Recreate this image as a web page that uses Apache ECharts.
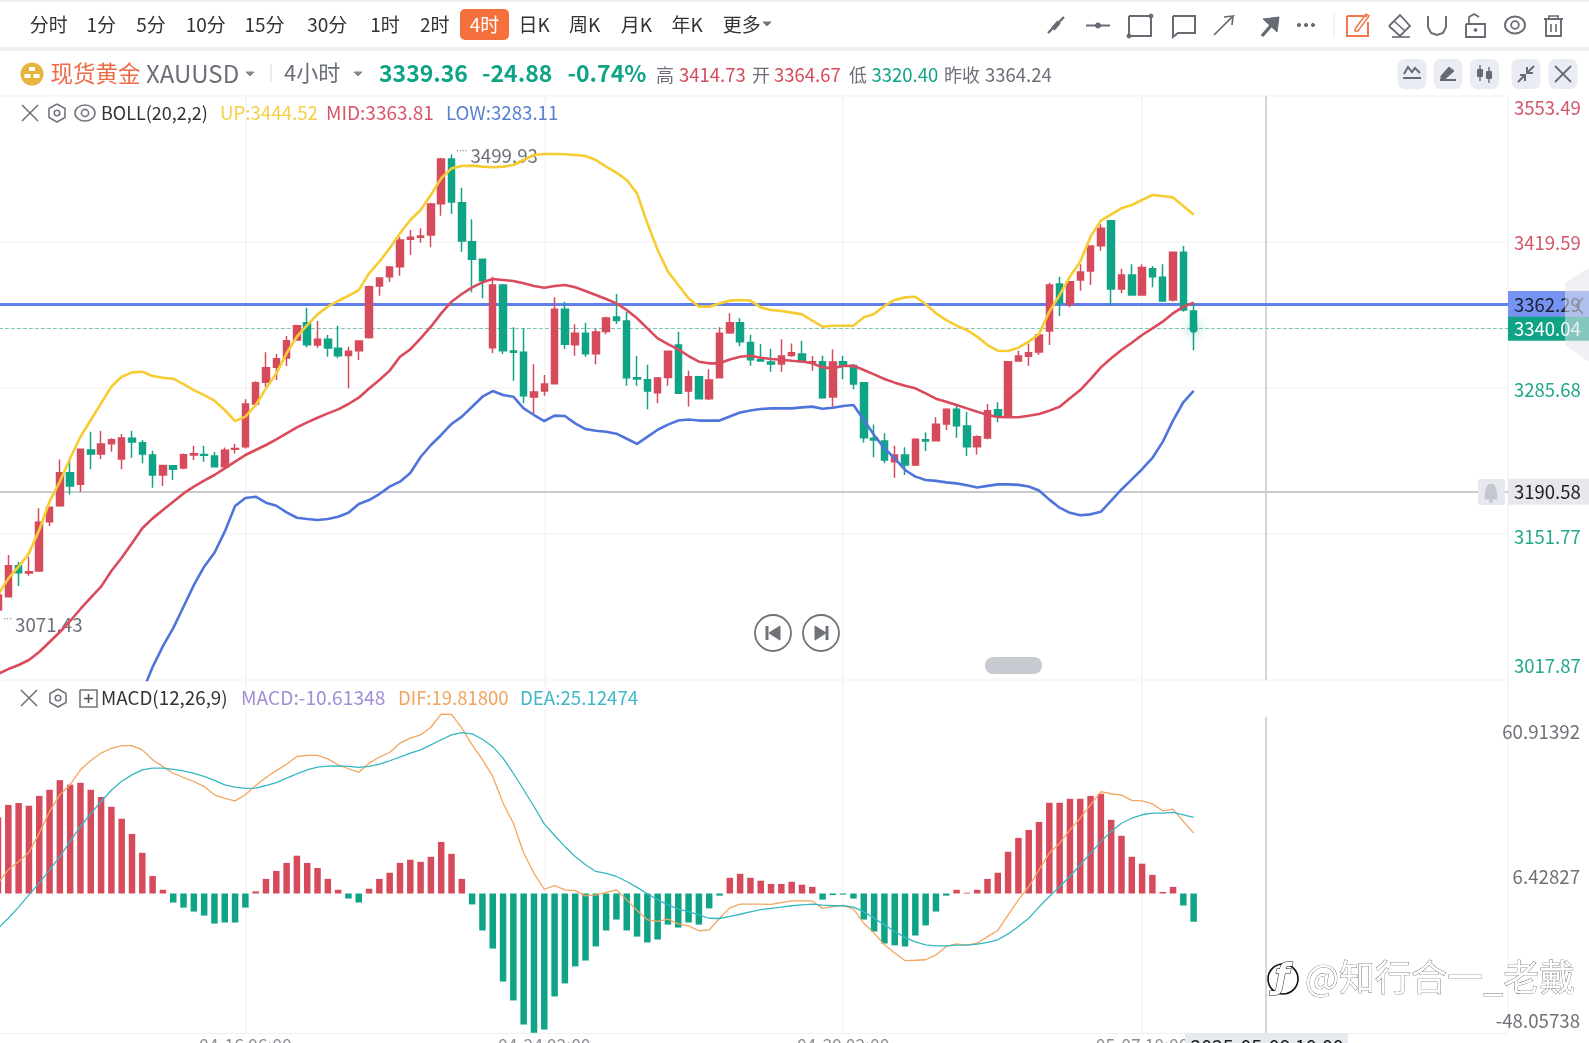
<!DOCTYPE html>
<html><head><meta charset="utf-8">
<style>html,body{margin:0;padding:0;background:#fff;overflow:hidden}#c{width:1589px;height:1043px}</style>
<script src="https://cdn.jsdelivr.net/npm/echarts@6/dist/echarts.min.js"></script>
</head><body><div id="c"></div>
<script>
// open, close, low, high (4-hour candles)
const ohlc=[
[3082.0,3095.8,3071.43,3098.0],[3094.3,3122.7,3094.3,3132.5],[3122.7,3116.3,3104.1,3126.4],[3116.0,3117.2,3113.5,3130.9],[3117.8,3162.5,3117.8,3175.3],[3163.1,3176.2,3159.1,3176.2],[3177.7,3208.0,3176.8,3220.2],[3208.0,3195.8,3188.1,3219.6],[3197.3,3229.4,3190.6,3229.4],[3228.8,3225.1,3211.1,3245.6],
[3225.1,3234.3,3220.5,3246.5],[3234.6,3238.3,3227.3,3239.5],[3220.5,3239.8,3211.1,3243.5],[3239.5,3236.1,3221.8,3246.5],[3235.5,3225.1,3216.6,3238.0],[3224.2,3205.9,3194.2,3228.2],[3205.9,3214.7,3195.8,3215.3],[3214.4,3211.1,3201.3,3214.4],[3212.3,3224.5,3211.1,3225.7],[3224.2,3225.4,3219.6,3232.8],
[3224.8,3223.9,3218.1,3232.8],[3223.3,3213.5,3212.9,3227.0],[3213.5,3228.5,3212.9,3231.2],[3229.4,3230.3,3225.7,3234.3],[3231.9,3271.0,3230.3,3275.3],[3271.0,3290.5,3268.5,3291.8],[3290.9,3304.3,3286.9,3318.4],[3304.6,3312.6,3293.0,3316.8],[3313.2,3329.1,3305.8,3333.4],[3329.7,3342.8,3328.8,3343.7],
[3345.6,3325.4,3323.0,3359.3],[3325.1,3330.3,3322.7,3347.1],[3330.3,3322.4,3314.4,3334.3],[3322.1,3315.3,3312.9,3342.8],[3315.6,3319.3,3285.4,3323.6],[3319.9,3328.8,3311.3,3329.4],[3332.1,3378.6,3330.9,3379.8],[3379.2,3386.6,3370.3,3387.2],[3387.8,3396.6,3382.9,3397.6],[3396.9,3421.4,3388.7,3424.5],
[3422.0,3423.9,3407.6,3430.6],[3423.9,3425.1,3419.0,3432.1],[3426.0,3454.4,3414.7,3455.6],[3454.7,3495.7,3443.7,3496.9],[3495.7,3456.3,3445.3,3499.93],[3455.6,3420.5,3410.7,3469.4],[3419.9,3403.7,3373.4,3440.4],[3403.7,3384.1,3367.9,3403.7],[3322.7,3380.1,3317.5,3387.8],[3380.1,3319.9,3316.8,3381.0],
[3319.6,3318.4,3292.4,3341.3],[3318.4,3278.6,3271.6,3340.4],[3277.4,3282.0,3260.9,3307.4],[3282.9,3289.3,3278.6,3297.6],[3289.6,3357.8,3289.0,3368.8],[3357.8,3325.7,3321.4,3364.8],[3325.4,3335.8,3315.3,3344.1],[3335.8,3317.2,3314.4,3345.6],[3317.2,3337.0,3307.4,3339.8],[3337.6,3349.9,3334.9,3351.1],
[3350.8,3347.7,3344.4,3371.9],[3347.1,3295.1,3287.8,3355.7],[3295.1,3293.9,3287.8,3315.0],[3293.3,3282.9,3266.1,3307.1],[3281.4,3294.8,3271.6,3295.7],[3295.4,3319.3,3287.8,3319.3],[3325.1,3280.8,3280.2,3337.3],[3282.9,3296.0,3268.8,3301.6],[3296.0,3275.9,3275.6,3297.0],[3275.9,3293.0,3274.7,3302.8],
[3295.1,3335.8,3294.8,3341.3],[3336.4,3345.6,3335.2,3354.2],[3345.6,3328.2,3323.9,3349.6],[3327.5,3311.6,3306.1,3334.6],[3311.6,3310.4,3310.4,3326.0],[3309.5,3307.7,3300.6,3321.7],[3307.7,3315.0,3300.6,3330.3],[3315.6,3318.1,3314.4,3326.6],[3316.9,3309.8,3309.5,3329.1],[3308.9,3309.8,3301.6,3315.0],
[3309.8,3276.8,3275.9,3315.3],[3277.4,3309.5,3268.5,3321.1],[3309.8,3306.4,3293.6,3315.3],[3306.4,3289.3,3284.5,3307.7],[3290.6,3240.1,3235.8,3290.6],[3239.5,3238.0,3222.1,3252.3],[3237.1,3219.6,3216.6,3244.1],[3218.1,3224.2,3203.4,3232.8],[3224.2,3215.0,3205.9,3231.3],[3215.0,3238.6,3214.1,3239.5],
[3238.3,3237.1,3227.9,3245.0],[3237.4,3252.4,3236.8,3258.8],[3252.7,3266.1,3247.1,3267.0],[3266.1,3251.1,3240.1,3270.1],[3250.8,3231.9,3223.3,3264.0],[3231.9,3241.0,3224.8,3242.3],[3239.8,3264.9,3238.6,3271.0],[3265.8,3260.6,3254.2,3272.5],[3260.6,3309.8,3260.0,3309.8],[3310.4,3315.0,3309.8,3319.9],
[3314.7,3318.1,3306.2,3326.6],[3318.7,3334.3,3316.0,3335.2],[3338.0,3380.2,3325.1,3382.3],[3381.1,3363.9,3351.7,3387.8],[3362.4,3383.2,3359.7,3383.8],[3384.7,3392.1,3374.9,3399.1],[3393.0,3415.9,3380.2,3415.9],[3416.2,3432.1,3411.6,3435.8],[3439.1,3376.5,3361.2,3439.1],[3376.5,3389.3,3372.5,3395.1],
[3389.3,3371.0,3370.7,3399.1],[3371.0,3396.3,3370.7,3399.1],[3395.1,3387.8,3378.0,3397.6],[3387.2,3365.4,3365.1,3399.1],[3366.4,3410.1,3364.9,3410.1],[3410.1,3357.2,3355.7,3415.9],[3356.3,3340.04,3320.4,3364.0]];
const bollUp=[3095.8,3111.1,3121.8,3134.0,3155.4,3181.4,3199.8,3221.2,3241.0,3256.3,3271.6,3286.9,3296.0,3300.0,3300.6,3296.7,3295.1,3294.2,3289.3,3283.8,3279.2,3274.0,3265.5,3255.4,3259.4,3270.1,3285.3,3299.1,3317.5,3332.7,3343.4,3353.2,3360.3,3365.5,3370.3,3375.5,3390.8,3401.5,3413.8,3427.5,3439.8,3448.9,3462.7,3478.0,3487.1,3489.3,3489.6,3488.7,3488.1,3488.7,3490.2,3494.8,3499.4,3500.3,3500.3,3500.0,3499.4,3498.5,3494.8,3488.7,3483.2,3476.4,3464.2,3436.7,3412.2,3392.4,3380.1,3367.9,3360.3,3360.3,3363.3,3365.8,3366.4,3365.8,3359.6,3357.2,3356.3,3354.8,3353.2,3347.4,3341.9,3342.8,3342.8,3342.8,3350.5,3353.5,3360.9,3366.4,3368.8,3369.4,3362.7,3354.2,3348.0,3342.8,3338.9,3332.8,3325.1,3319.9,3319.6,3322.7,3328.2,3335.2,3355.7,3371.0,3387.8,3401.6,3424.5,3439.1,3445.0,3450.5,3453.5,3458.1,3462.7,3461.8,3460.5,3452.6,3444.52];
const bollMid=[3023.4,3027.9,3031.6,3036.2,3043.5,3052.7,3061.9,3072.0,3083.0,3093.4,3103.5,3117.8,3130.0,3143.2,3157.0,3166.1,3173.8,3181.4,3189.0,3195.2,3200.7,3205.9,3212.0,3218.1,3224.2,3228.8,3233.4,3238.6,3244.1,3249.6,3254.2,3258.4,3262.4,3266.1,3271.0,3276.8,3285.3,3293.0,3301.6,3314.4,3321.1,3331.2,3341.9,3354.1,3364.8,3371.9,3378.0,3382.6,3385.6,3384.7,3383.8,3381.7,3379.2,3377.7,3379.2,3380.1,3378.0,3374.6,3371.0,3367.3,3363.3,3357.2,3349.6,3340.4,3331.2,3326.0,3321.1,3315.0,3309.8,3308.3,3308.3,3311.9,3314.4,3315.3,3313.5,3312.3,3311.6,3310.7,3310.0,3308.3,3304.6,3303.7,3305.8,3306.1,3302.2,3298.2,3293.9,3290.6,3287.8,3285.4,3280.8,3275.9,3273.1,3270.1,3267.0,3264.0,3260.9,3259.1,3258.8,3258.8,3260.3,3261.8,3264.9,3268.5,3276.2,3283.8,3293.9,3304.6,3312.9,3320.5,3327.2,3334.3,3340.4,3346.5,3354.2,3360.3,3363.81];
const bollLow=[null,null,null,null,null,null,null,null,null,null,null,null,null,null,3006.8,3029.8,3049.0,3065.5,3085.1,3104.9,3121.8,3134.6,3153.9,3177.4,3184.8,3186.0,3180.5,3177.7,3171.6,3166.7,3165.5,3164.6,3165.5,3167.6,3171.3,3179.3,3182.9,3188.4,3195.2,3199.8,3207.7,3222.4,3233.4,3242.6,3252.7,3259.4,3268.5,3277.7,3282.9,3279.2,3277.7,3267.0,3260.9,3255.4,3260.3,3260.0,3253.2,3248.0,3246.5,3245.6,3243.8,3239.1,3234.4,3240.9,3247.4,3252.1,3255.8,3256.8,3255.8,3255.8,3255.8,3259.5,3263.2,3265.1,3266.4,3267.0,3267.0,3267.0,3267.9,3268.6,3266.7,3267.6,3269.2,3270.1,3256.3,3242.6,3230.3,3221.2,3210.5,3204.4,3201.3,3200.5,3199.1,3198.2,3196.4,3194.5,3195.9,3197.3,3197.3,3196.8,3195.4,3191.7,3183.3,3175.9,3171.2,3168.9,3169.8,3172.1,3182.4,3192.6,3201.9,3211.2,3221.5,3236.3,3255.8,3272.6,3283.11];
const macdHist=[28.6,33.3,34.0,33.0,36.7,39.0,42.6,40.9,41.6,39.0,36.3,32.6,28.1,22.4,15.3,6.6,1.4,-3.4,-5.3,-6.8,-8.3,-11.3,-10.9,-10.9,-5.3,0.8,5.5,8.5,11.5,14.2,11.5,9.6,5.5,1.4,-1.9,-3.4,1.8,5.5,7.8,11.5,12.7,11.9,13.8,19.4,14.9,5.5,-4.1,-13.9,-20.7,-33.1,-40.2,-49.2,-52.3,-51.1,-38.7,-33.8,-27.4,-25.2,-19.9,-13.9,-9.8,-13.9,-16.2,-18.4,-17.3,-11.7,-12.8,-10.9,-11.7,-5.6,-0.8,5.9,7.4,5.9,4.8,3.6,3.6,4.4,3.3,2.5,-2.3,-0.6,-0.4,-1.9,-9.8,-14.3,-18.8,-19.5,-19.9,-15.8,-12.0,-6.8,-0.8,1.4,0.3,1.4,5.5,7.8,15.7,20.9,23.9,26.9,34.1,34.1,35.6,35.6,36.7,37.5,27.7,21.7,13.8,11.2,7.0,0.6,2.5,-4.5,-10.61];
const macdDif=[3.9,8.9,12.0,15.4,22.7,30.8,37.1,40.9,46.5,50.0,52.8,54.6,55.6,55.6,54.0,50.3,47.7,45.2,43.6,42.1,40.2,37.1,35.8,34.8,37.1,40.6,43.6,46.2,48.6,51.5,51.9,51.9,50.6,48.4,46.9,45.6,49.0,51.3,53.0,56.5,58.4,59.6,62.5,67.4,67.3,62.2,55.9,50.3,44.0,34.0,26.4,15.2,7.6,1.6,3.0,1.4,1.1,-0.9,-0.5,0.4,1.4,-2.4,-6.4,-9.9,-10.5,-9.6,-11.4,-12.2,-14.0,-13.7,-9.3,-5.4,-4.0,-4.0,-4.0,-4.1,-3.4,-2.8,-2.8,-2.8,-5.6,-4.9,-4.5,-5.9,-11.2,-14.9,-19.3,-22.4,-25.2,-25.1,-24.9,-23.1,-19.9,-18.9,-19.4,-18.7,-16.2,-13.9,-8.0,-2.4,2.6,8.9,15.2,18.9,23.9,28.3,33.3,38.3,37.5,37.0,35.0,34.8,33.7,31.1,31.7,27.1,22.7];
const macdDea=[-13.1,-9.3,-5.1,-0.5,3.9,8.9,13.9,19.6,25.2,30.0,34.6,38.8,42.2,44.6,46.5,47.1,47.1,46.7,46.1,45.2,44.0,42.5,40.8,40.0,39.5,39.6,40.6,41.7,43.4,45.0,46.5,47.5,47.9,48.0,47.8,47.4,47.8,48.6,49.9,51.3,52.8,54.0,55.9,57.8,59.6,60.5,60.0,58.0,55.2,50.9,45.2,39.0,32.7,26.2,21.8,17.7,13.9,10.8,8.3,7.6,6.4,4.5,2.3,-0.1,-2.4,-4.3,-5.9,-6.8,-8.0,-9.3,-9.4,-8.6,-7.8,-6.9,-6.1,-5.6,-5.1,-4.6,-4.3,-4.0,-4.4,-4.6,-4.6,-5.1,-6.8,-9.3,-11.8,-14.3,-16.5,-18.2,-19.3,-19.7,-19.7,-19.4,-19.4,-19.0,-18.4,-17.4,-15.2,-12.4,-9.3,-5.1,-1.1,2.6,6.4,10.8,15.2,19.5,23.3,26.4,28.3,29.6,30.2,30.2,30.5,29.6,28.6];
const priceTicks=[3017.87,3151.77,3285.68,3419.59,3553.49];
const macdTicks=[-48.05738,6.42827,60.91392];
const timeTicks={24:'04-16 06:00',53:'04-24 02:00',82:'04-30 02:00',111:'05-07 18:00'};
const emptyBars=30;
const categories=Array.from({length:ohlc.length+emptyBars},(_,i)=>timeTicks[i]||('t'+i));
const crossIndex=123, crossLabel='2025-05-09 10:00';
const highMark=[44,3499.93], lowMark=[0,3071.43];
const priceLine=3362.29, lastPrice=3340.04, alertPrice=3190.58;
const crossTopValue=66.4;

const RED='#D64B5C',GREEN='#10A487',GRAY='#6b6f78',FONT='"Noto Sans CJK SC","Noto Sans",sans-serif';
const gfx=[];
function T(x,y,text,o={}){gfx.push({type:'text',silent:true,z:o.z||20,x,y,style:{text,fill:o.c||'#333',font:(o.w||'normal')+' '+(o.fs||18)+'px '+FONT,textAlign:o.a||'left',textVerticalAlign:'middle',stroke:o.stroke,lineWidth:o.lw||0}});}
function R(x,y,w,h,fill,r,z,op){gfx.push({type:'rect',silent:true,z:z||15,shape:{x,y,width:w,height:h,r:r||0},style:{fill,opacity:op==null?1:op}});}
function P(points,stroke,lw,o={}){gfx.push({type:o.closed?'polygon':'polyline',silent:true,z:o.z||20,shape:{points},style:{stroke,lineWidth:lw||1.6,fill:o.fill||'none',opacity:o.op==null?1:o.op}});}
function C(cx,cy,r,stroke,lw,fill,z){gfx.push({type:'circle',silent:true,z:z||20,shape:{cx,cy,r},style:{stroke:stroke||'none',lineWidth:lw||1.6,fill:fill||'none'}});}
function E(cx,cy,rx,ry,stroke,lw){gfx.push({type:'ellipse',silent:true,z:20,shape:{cx,cy,rx,ry},style:{stroke,lineWidth:lw||1.6,fill:'none'}});}
const ic='#666a72';
// bands
R(0,0,1589,2,'#eceef1');R(0,47,1589,4,'#eef0f3');
// toolbar
[['分时',48],['1分',100],['5分',149],['10分',203],['15分',261],['30分',323],['1时',380],['2时',429],['日K',527],['周K',577],['月K',628],['年K',678],['更多',732]].forEach(([t,x])=>T(x*1.0134,25,t,{fs:19,a:'center',c:'#333'}));
R(460,9,49,31,'#F4703C',5);T(484.5,25,'4时',{fs:19,a:'center',c:'#fff'});
P([[763,22],[771,22],[767,26]],'#777',1,{closed:true,fill:'#777'});
// draw tools
P([[1048,33],[1064,17]],ic,2.4);P([[1053,29],[1059,22]],ic,4.5);
P([[1086,25.5],[1110,25.5]],ic,2);C(1098,25.5,2.6,ic,1,ic);
P([[1129,16],[1151,16],[1151,36],[1129,36],[1129,16]],ic,2);C(1129,36,2,ic,1,ic);C(1151,16,2,ic,1,ic);
P([[1173,16],[1195,16],[1195,33],[1178,33],[1173,37],[1173,16]],ic,2);
P([[1214,35],[1233,16],[1224,17]],ic,1.7);P([[1233,16],[1232,25]],ic,1.7);
P([[1262,36],[1275,21]],ic,3.4);P([[1263,19],[1279,17],[1277,32]],ic,1,{closed:true,fill:ic});
C(1299,25,1.6,ic,1,ic);C(1306,25,1.6,ic,1,ic);C(1313,25,1.6,ic,1,ic);
P([[1334,14],[1334,36]],'#e2e4e8',1);
P([[1347,16],[1367,16]],'#F0784B',2);P([[1347,16],[1347,36],[1368,36],[1368,22]],'#F0784B',2);P([[1355,29],[1366,14],[1369,16],[1358,31],[1355,31],[1355,29]],'#F0784B',1.5);
P([[1389,26],[1400,15],[1410,26],[1400,36],[1389,26]],ic,1.8);P([[1394,21],[1405,31]],ic,1.6);P([[1392,37],[1410,37]],ic,1.6);
P([[1428,16],[1428,27],[1431,33],[1437,35],[1443,33],[1446,27],[1446,16]],ic,1.9);
P([[1466,24],[1485,24],[1485,37],[1466,37],[1466,24]],ic,1.9);P([[1469,24],[1469,17],[1474,14],[1479,17]],ic,1.7);C(1475.5,30,1.4,ic,1,ic);
E(1515,25,10,8.5,ic,1.9);C(1515,25,3.8,ic,1.8);
P([[1544,19],[1563,19]],ic,2);P([[1549,19],[1549,16],[1558,16],[1558,19]],ic,1.6);P([[1546,19],[1546,36],[1561,36],[1561,19]],ic,1.9);P([[1551,24],[1551,32]],ic,1.6);P([[1556,24],[1556,32]],ic,1.6);
// header
C(32,74,11.5,null,0,'#E8B440');R(29,67,6,4,'#fff',0,21);R(24.5,74,6,4,'#fff',0,21);R(33.5,74,6,4,'#fff',0,21);
T(50.5,73,'现货黄金',{fs:22.5,c:'#EE6A45'});T(146,74,'XAUUSD',{fs:24,c:GRAY});
P([[246,72],[254,72],[250,76]],'#888',1,{closed:true,fill:'#888'});P([[271,64],[271,82]],'#d8dade',1);
T(284,73,'4小时',{fs:22,c:GRAY});P([[354,72],[362,72],[358,76]],'#888',1,{closed:true,fill:'#888'});
T(379,73,'3339.36',{fs:23,c:GREEN,w:'bold'});T(482,73,'-24.88',{fs:23,c:GREEN,w:'bold'});T(567.5,73,'-0.74%',{fs:23,c:GREEN,w:'bold'});
T(656,75,'高',{fs:18,c:GRAY});T(679,75,'3414.73',{fs:18.5,c:RED});T(752,75,'开',{fs:18,c:GRAY});T(774,75,'3364.67',{fs:18.5,c:RED});T(849,75,'低',{fs:18,c:GRAY});T(871.5,75,'3320.40',{fs:18.5,c:GREEN});T(944,75,'昨收',{fs:18,c:GRAY});T(985,75,'3364.24',{fs:18.5,c:GRAY});
[1412,1448,1484.5,1526,1563].forEach(x=>R(x-14.5,59,29,30,'#e9edf3',7));
P([[1403,78],[1421,78]],ic,2);P([[1404,74],[1408,67],[1412,72],[1415,68],[1420,73]],ic,2);
P([[1440,80],[1456,80]],ic,2);P([[1441,76],[1449,67],[1454,71],[1445,79],[1441,79]],ic,1,{closed:true,fill:ic});
P([[1480,65],[1480,81]],ic,1.4);R(1477,69,6,8,ic,1,21);P([[1489,67],[1489,83]],ic,1.4);R(1486,71,6,8,ic,1,21);
P([[1518,82],[1524,76]],ic,2);P([[1534,66],[1528,72]],ic,2);P([[1520,75],[1525,75],[1525,81]],ic,2);P([[1527,67],[1527,73],[1533,73]],ic,2);
P([[1555,66],[1571,82]],ic,1.8);P([[1571,66],[1555,82]],ic,1.8);
// BOLL legend
const X=(x,y,s)=>{P([[x-s,y-s],[x+s,y+s]],'#6f7279',1.6);P([[x+s,y-s],[x-s,y+s]],'#6f7279',1.6);};
const hex=(x,y)=>{P([[x,y-9],[x+8,y-4.5],[x+8,y+4.5],[x,y+9],[x-8,y+4.5],[x-8,y-4.5],[x,y-9]],'#74777e',1.6);C(x,y,2.8,'#74777e',1.6);};
X(30,113,8);hex(57,113);
E(85,113,10,8,'#74777e',1.6);C(85,113,3.6,'#74777e',1.6);
T(101,113,'BOLL(20,2,2)',{fs:18,c:'#333'});T(220,113,'UP:3444.52',{fs:18.7,c:'#F5CF45'});T(326,113,'MID:3363.81',{fs:19,c:'#D9566A'});T(446,113,'LOW:3283.11',{fs:18.7,c:'#5B80CF'});
// MACD legend
X(29,698,8);hex(58,698);
P([[80,690],[97,690],[97,707],[80,707],[80,690]],'#74777e',1.6);P([[84,698.5],[93,698.5]],'#555',1.6);P([[88.5,694],[88.5,703]],'#555',1.6);
T(101,698,'MACD(12,26,9)',{fs:18.8,c:'#333'});T(241,698,'MACD:-10.61348',{fs:19.2,c:'#A28FD8'});T(398,698,'DIF:19.81800',{fs:18.5,c:'#F2A35E'});T(520,698,'DEA:25.12474',{fs:18.7,c:'#3EB8C6'});
// replay buttons & pill
C(773,633,18,'#6f7278',1.8);C(821,633,18,'#6f7278',1.8);
P([[767,626],[767,640]],'#6f7278',3);P([[780,626],[769,633],[780,640]],'#6f7278',1,{closed:true,fill:'#6f7278'});
P([[827,626],[827,640]],'#6f7278',3);P([[815,626],[826,633],[815,640]],'#6f7278',1,{closed:true,fill:'#6f7278'});
R(985,657,57,17,'#c9cbd3',8);
// alert bell
R(1478,479,27,26,'#e6e8ee',3,25);P([[1485,499],[1486,490],[1488,485],[1491,484],[1494,485],[1496,490],[1497,499]],'#c4c7cf',1,{closed:true,fill:'#c4c7cf',z:26});C(1491,501,2,null,0,'#c4c7cf',26);
// side handle
P([[1589,268],[1565,283],[1565,345],[1589,362]],'none',0,{closed:true,fill:'rgba(225,228,235,0.55)',z:60});
P([[1583,298],[1576,306],[1583,314]],'#8b8f98',1.5,{z:61});
// crosshair time box
R(1185,1033,163,10,'#e6e9f0',0,25);T(1267,1047,crossLabel,{fs:19.5,a:'center',c:'#222',z:26});
// watermark
const wm={c:'#fff',stroke:'#555',lw:0.7,fs:36,z:70};
T(1305,977,'@知行合一_老戴',wm);
gfx.push({type:'text',silent:true,z:70,x:1282,y:979,style:{text:'ƒ',fill:'#fff',stroke:'#111',lineWidth:1,font:'italic bold 34px "DejaVu Sans"',textAlign:'center',textVerticalAlign:'middle'}});
C(1283,979,15,'#111',1.6,null,69);

const tag=(c,tc,h)=>({show:true,position:'end',distance:0,color:tc,fontSize:18.5,fontFamily:FONT,backgroundColor:c,padding:[0,0,0,6],width:75,height:h,lineHeight:h,verticalAlign:'middle'});
const xCommon={type:'category',data:categories,boundaryGap:true,axisTick:{show:false},axisLine:{show:false},splitLine:{show:false}};
const gridLineStyle={color:'#f4f5f7',width:1.5,type:'solid'};
const vGrid=Object.keys(timeTicks).map(k=>({xAxis:+k,lineStyle:gridLineStyle,label:{show:false}}));
const mark=(coord,dots,num,off)=>({coord,symbol:'circle',symbolSize:1,itemStyle:{color:'transparent'},label:{show:true,position:'right',distance:off[0],offset:[0,off[1]],formatter:'{d|'+dots+'}{n|'+num+'}',rich:{d:{fontSize:9,fontFamily:'"DejaVu Sans"',color:'#6b6f78',verticalAlign:'top',padding:[0,3,6,0]},n:{fontSize:18.7,fontFamily:FONT,color:'#6b6f78'}}}});
const labelRich=(col)=>({fontSize:18.5,fontFamily:FONT,color:col});
const priceStyle={r0:{...labelRich('#22A68C'),padding:[0,0,5,0]},g1:{...labelRich('#22A68C'),padding:[6,0,0,0]},g2:{...labelRich('#22A68C'),padding:[4,0,0,0]},r1:{...labelRich('#D2566A'),padding:[2,0,0,0]},r2:{...labelRich('#D2566A'),padding:[3,0,0,0]}};
const priceStyleKey={3017.87:'r0',3151.77:'g1',3285.68:'g2',3419.59:'r1',3553.49:'r2'};
const option={animation:false,backgroundColor:'#fff',
grid:[{left:-7.15,width:1515.15,top:96,height:584,outerBoundsMode:'none'},{left:-7.15,width:1515.15,top:680,height:353,outerBoundsMode:'none'}],
xAxis:[
 {...xCommon,gridIndex:0,axisLabel:{show:false}},
 {...xCommon,gridIndex:1,position:'bottom',axisLine:{show:true,onZero:false,lineStyle:{color:'#eeeff2'}},axisLabel:{show:true,interval:(i)=>!!timeTicks[i],formatter:v=>timeTicks[categories.indexOf(v)]||'',color:'#8a8d94',fontSize:17.5,fontFamily:FONT,margin:4,verticalAlign:'top'}}
],
yAxis:[
 {type:'value',gridIndex:0,position:'right',min:3017.87,max:3553.49,scale:true,axisLine:{show:true,lineStyle:{color:'#f3f4f6',width:1.5}},axisTick:{show:false,customValues:priceTicks},splitLine:{show:true,lineStyle:{color:'#f5f6f8',width:1.5}},
  axisLabel:{customValues:priceTicks,hideOverlap:false,showMinLabel:true,showMaxLabel:true,verticalAlignMinLabel:'bottom',verticalAlignMaxLabel:'top',margin:6,fontSize:18.5,fontFamily:FONT,formatter:v=>'{'+priceStyleKey[v]+'|'+v.toFixed(2)+'}',rich:priceStyle}},
 {type:'value',gridIndex:1,position:'right',min:-52.44,max:80.26,axisLine:{show:true,lineStyle:{color:'#f3f4f6',width:1.5}},axisTick:{show:false},splitLine:{show:false},
  axisLabel:{customValues:macdTicks,hideOverlap:false,align:'right',margin:72,fontSize:18.7,fontFamily:FONT,formatter:v=>v.toFixed(5),color:'#6f7279'}}
],
graphic:{elements:gfx},
series:[
 {name:'K',type:'candlestick',xAxisIndex:0,yAxisIndex:0,data:ohlc,barWidth:7,z:3,clip:true,
  itemStyle:{color:RED,color0:GREEN,borderColor:RED,borderColor0:GREEN,borderWidth:1.5},
  markPoint:{silent:true,animation:false,data:[mark(highMark,'····','3499.93',[4,2]),mark(lowMark,'···','3071.43',[5,3]),
    {coord:[116,lastPrice],symbol:'circle',symbolSize:8,itemStyle:{color:GREEN,shadowColor:'rgba(16,164,135,0.8)',shadowBlur:12},label:{show:false}}]},
  markLine:{silent:true,animation:false,symbol:'none',z:1,data:vGrid.concat([
   {xAxis:crossIndex,lineStyle:{color:'#c6c8ce',width:1.5,type:'solid'},label:{show:false}},
   {yAxis:alertPrice,lineStyle:{color:'#c9cacf',width:1.8,type:'solid'},label:{...tag('#e6e8ee','#222',26),formatter:'{c}'}},
   {yAxis:priceLine,lineStyle:{color:'#5F7FEC',width:3,type:'solid'},label:{...tag('#7693F1','#1a1f33',27),formatter:'{c}'}},
   {yAxis:lastPrice,lineStyle:{color:'#7fc4b4',width:1,type:'dashed'},label:{...tag(GREEN,'#fff',24),formatter:'{c}'}}
  ])}},
 {name:'UP',type:'line',xAxisIndex:0,yAxisIndex:0,data:bollUp,showSymbol:false,z:5,lineStyle:{color:'#F6CC33',width:2.6},clip:true},
 {name:'MID',type:'line',xAxisIndex:0,yAxisIndex:0,data:bollMid,showSymbol:false,z:5,lineStyle:{color:'#DB4A5C',width:2.6},clip:true},
 {name:'LOW',type:'line',xAxisIndex:0,yAxisIndex:0,data:bollLow,showSymbol:false,z:5,lineStyle:{color:'#4F74DC',width:2.6},clip:true},
 {name:'MACD',type:'bar',xAxisIndex:1,yAxisIndex:1,data:macdHist,barWidth:6.5,z:3,itemStyle:{color:p=>p.value>=0?RED:GREEN},
  markLine:{silent:true,animation:false,symbol:'none',z:1,data:vGrid.concat([[{coord:[crossIndex,crossTopValue],lineStyle:{color:'#c6c8ce',width:1.5,type:'solid'}},{coord:[crossIndex,-52.44]}]]),lineStyle:{color:'#c6c8ce',width:1.5,type:'solid'},label:{show:false}}},
 {name:'DIF',type:'line',xAxisIndex:1,yAxisIndex:1,data:macdDif,showSymbol:false,z:5,lineStyle:{color:'#F2A65F',width:1.3}},
 {name:'DEA',type:'line',xAxisIndex:1,yAxisIndex:1,data:macdDea,showSymbol:false,z:5,lineStyle:{color:'#35B7C4',width:1.3}}
]};
const chart=echarts.init(document.getElementById('c'),null,{renderer:'canvas',width:1589,height:1043});
chart.setOption(option);
</script></body></html>
